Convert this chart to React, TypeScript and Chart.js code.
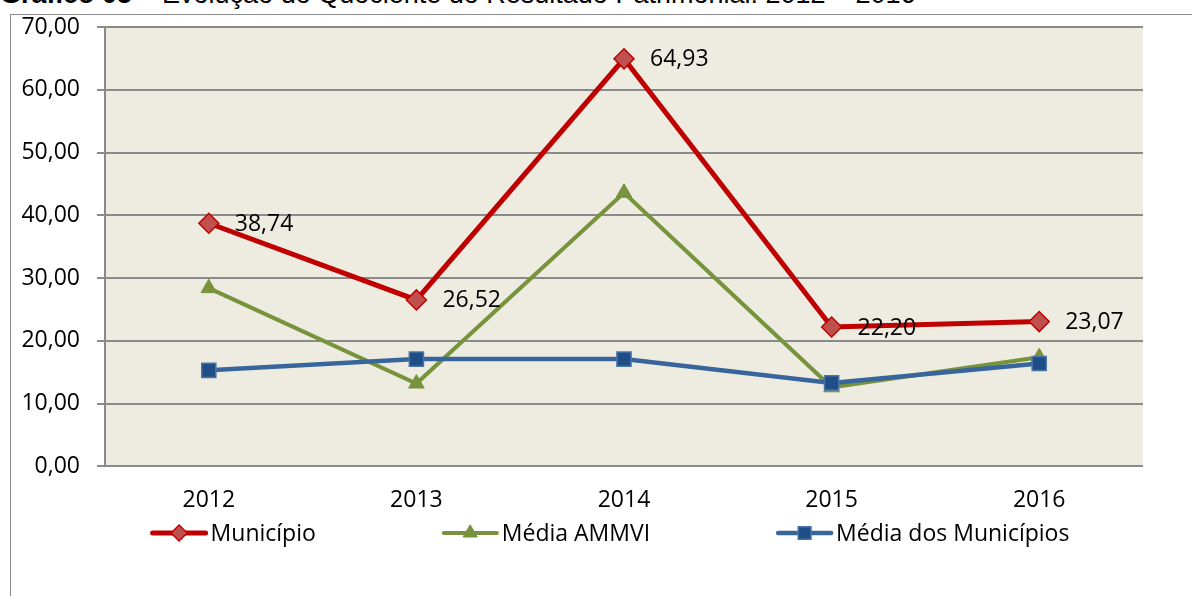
import React, { useEffect, useRef } from 'react';
import { Chart, registerables } from 'chart.js';
import { drawPoint } from 'chart.js/helpers';

Chart.register(...registerables);

const categories = ['2012', '2013', '2014', '2015', '2016'];
const municipio = [38.74, 26.52, 64.93, 22.2, 23.07];
const mediaAmmvi = [28.4, 13.2, 43.6, 12.6, 17.4];
const mediaMunicipios = [15.3, 17.1, 17.1, 13.3, 16.4];
const seriesNames = ['Município', 'Média AMMVI', 'Média dos Municípios'];
const yMin = 0;
const yMax = 70;
const yStep = 10;
const titleBold = 'Gráfico 05';
const titleRest = ' – Evolução do Quociente do Resultado Patrimonial: 2012 – 2016';

const FONT = "'Open Sans', sans-serif";
const fmt = (v: number) => v.toFixed(2).replace('.', ',');

const styles = [
  { line: '#C00000', fill: '#C0504D', border: '#C00000', pointStyle: 'rectRot', radius: 10, borderW: 1.5, lineW: 5, legendRadius: 8 },
  { line: '#77933C', fill: '#77933C', border: '#77933C', pointStyle: 'triangle', radius: 9, borderW: 1, lineW: 4, legendRadius: 8 },
  { line: '#38669C', fill: '#1F4E86', border: '#4A74A8', pointStyle: 'rect', radius: 10, borderW: 1.5, lineW: 4.5, legendRadius: 9 },
];

const bgPlugin = {
  id: 'plotBg',
  beforeDraw(chart: any) {
    const { ctx, chartArea } = chart;
    ctx.save();
    ctx.fillStyle = '#EEECE1';
    ctx.fillRect(chartArea.left, chartArea.top, chartArea.right - chartArea.left, chartArea.bottom - chartArea.top);
    ctx.restore();
  },
};

const labelPlugin = {
  id: 'valueLabels',
  afterDatasetsDraw(chart: any) {
    const { ctx } = chart;
    const meta = chart.getDatasetMeta(0);
    ctx.save();
    ctx.font = `23px ${FONT}`;
    ctx.fillStyle = '#000';
    ctx.textAlign = 'left';
    ctx.textBaseline = 'middle';
    meta.data.forEach((el: any, i: number) => {
      ctx.fillText(fmt(municipio[i]), el.x + 26, el.y + 1);
    });
    ctx.restore();
  },
};

const legendPlugin = {
  id: 'customLegend',
  afterDraw(chart: any) {
    const { ctx } = chart;
    ctx.save();
    ctx.font = `23px ${FONT}`;
    const sampleW = 57;
    const textGap = 3;
    const itemGap = 126;
    const widths = seriesNames.map((n) => ctx.measureText(n).width);
    const total = widths.reduce((a, w) => a + sampleW + textGap + w, 0) + itemGap * (seriesNames.length - 1);
    let x = 610 - total / 2;
    const y = 533;
    seriesNames.forEach((name, i) => {
      const s = styles[i];
      ctx.strokeStyle = s.line;
      ctx.lineWidth = s.lineW;
      ctx.lineCap = 'round';
      ctx.beginPath();
      ctx.moveTo(x + 2, y);
      ctx.lineTo(x + sampleW - 2, y);
      ctx.stroke();
      ctx.fillStyle = s.fill;
      ctx.strokeStyle = s.border;
      ctx.lineWidth = s.borderW;
      drawPoint(ctx, { pointStyle: s.pointStyle as any, radius: s.legendRadius, borderWidth: s.borderW, rotation: 0 } as any, x + sampleW / 2, y);
      ctx.fillStyle = '#000';
      ctx.textAlign = 'left';
      ctx.textBaseline = 'middle';
      ctx.fillText(name, x + sampleW + textGap, y + 1);
      x += sampleW + textGap + widths[i] + itemGap;
    });
    ctx.restore();
  },
};

export default function App() {
  const ref = useRef<HTMLCanvasElement | null>(null);

  useEffect(() => {
    if (!ref.current) return;
    Chart.defaults.font.family = FONT;
    const seriesData = [municipio, mediaAmmvi, mediaMunicipios];
    const orders = [0, 2, 1];
    const chart = new Chart(ref.current, {
      type: 'line',
      data: {
        labels: categories,
        datasets: seriesData.map((d, i) => ({
          label: seriesNames[i],
          data: d,
          borderColor: styles[i].line,
          borderWidth: styles[i].lineW,
          backgroundColor: styles[i].fill,
          pointBackgroundColor: styles[i].fill,
          pointBorderColor: styles[i].border,
          pointBorderWidth: styles[i].borderW,
          pointStyle: styles[i].pointStyle as any,
          pointRadius: styles[i].radius,
          pointHoverRadius: styles[i].radius,
          tension: 0,
          fill: false,
          order: orders[i],
        })),
      },
      options: {
        responsive: false,
        animation: false,
        events: [],
        layout: { padding: { top: 27, right: 49, bottom: 62, left: 0 } },
        plugins: {
          legend: { display: false },
          tooltip: { enabled: false },
          title: { display: false },
        },
        scales: {
          x: {
            offset: true,
            grid: { display: false, drawTicks: false },
            border: { display: false },
            ticks: { color: '#000', font: { size: 23, family: FONT }, padding: 20, maxRotation: 0 },
          },
          y: {
            min: yMin,
            max: yMax,
            afterFit: (scale: any) => {
              scale.width = 105;
              scale.paddingTop = 0;
              scale.paddingBottom = 0;
            },
            ticks: {
              stepSize: yStep,
              color: '#000',
              font: { size: 23, family: FONT },
              padding: 17,
              callback: (v: any) => fmt(Number(v)),
            },
            grid: { color: '#8A8A8A', lineWidth: 2, tickLength: 8, drawTicks: true },
            border: { display: true, color: '#8A8A8A', width: 2 },
          },
        },
      },
      plugins: [bgPlugin, labelPlugin, legendPlugin],
    });
    return () => chart.destroy();
  }, []);

  return (
    <div style={{ position: 'fixed', left: 0, top: 0, width: 1192, height: 596, overflow: 'hidden', background: '#fff' }}>
      <div
        style={{
          position: 'absolute',
          left: 0,
          top: -21,
          fontFamily: "'Liberation Sans', Arial, sans-serif",
          fontSize: 27,
          lineHeight: '31px',
          whiteSpace: 'nowrap',
          color: '#000',
        }}
      >
        <b>{titleBold}</b>
        {titleRest}
      </div>
      <div
        style={{
          position: 'absolute',
          left: 10,
          top: 14,
          width: 1300,
          height: 700,
          border: '1.5px solid #8C8C8C',
          boxSizing: 'border-box',
        }}
      />
      <canvas ref={ref} width={1192} height={596} style={{ position: 'absolute', left: 0, top: 0, width: 1192, height: 596 }} />
    </div>
  );
}
